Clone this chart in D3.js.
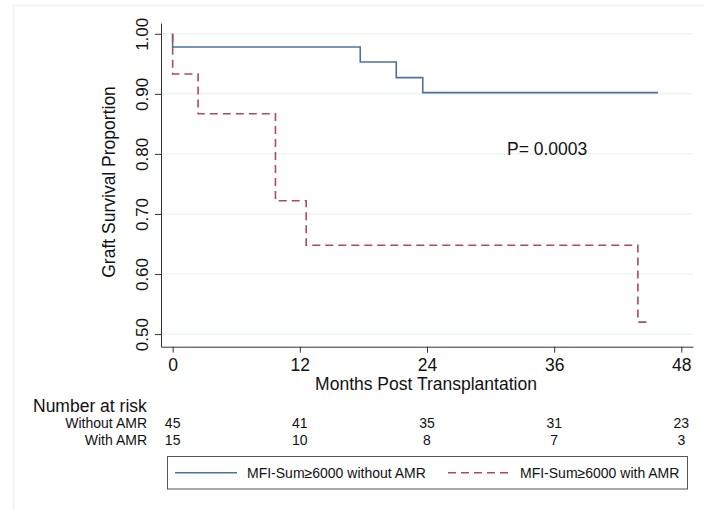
<!DOCTYPE html>
<html>
<head>
<meta charset="utf-8">
<script src="https://cdn.jsdelivr.net/npm/d3@7"></script>
<style>
  html, body { margin: 0; padding: 0; background: #ffffff; }
  svg { display: block; font-family: "Liberation Sans", Arial, sans-serif; }
</style>
</head>
<body>
<svg id="chart" width="705" height="510"></svg>
<script>
// ---- data ----
const withoutTimes = [0, 0, 17.7, 21.1, 23.6, 45.8];
const withoutSurv  = [1.0, 0.978, 0.953, 0.927, 0.902, 0.902];
const withTimes = [0, 0, 2.4, 9.7, 12.6, 43.9, 45.0];
const withSurv  = [1.0, 0.933, 0.867, 0.722, 0.648, 0.52, 0.52];
const xTicks = [0, 12, 24, 36, 48];
const yTicks = [0.5, 0.6, 0.7, 0.8, 0.9, 1.0];
const riskWithout = [45, 41, 35, 31, 23];
const riskWith = [15, 10, 8, 7, 3];
const groupLabels = ["Without AMR", "With AMR"];
const legendLabels = ["MFI-Sum\u22656000 without AMR", "MFI-Sum\u22656000 with AMR"];
const pValue = "P= 0.0003";

const blue = "#4d71a0", red = "#ad4a5b";
const svg = d3.select("#chart");

// faint outer frame
svg.append("line").attr("x1", 13.5).attr("x2", 13.5).attr("y1", 5).attr("y2", 510)
  .attr("stroke", "#f1f1f1").attr("stroke-width", 1.5);
svg.append("line").attr("x1", 13).attr("x2", 705).attr("y1", 5.5).attr("y2", 5.5)
  .attr("stroke", "#f3f3f3").attr("stroke-width", 1.5);

const L = 161, R = 693, T = 23, B = 346.7;
const x = d3.scaleLinear().domain([-1.1, 49.1]).range([L, R]);
const y = d3.scaleLinear().domain([0.479, 1.018]).range([B, T]);

// gridlines
svg.append("g").selectAll("line").data(yTicks).join("line")
  .attr("x1", L).attr("x2", R)
  .attr("y1", d => y(d)).attr("y2", d => y(d))
  .attr("stroke", "#e6eff0").attr("stroke-width", 1);

// axes
const yAx = svg.append("g").attr("transform", `translate(${L},0)`)
  .call(d3.axisLeft(y).tickValues(yTicks).tickSize(6).tickSizeOuter(0).tickFormat(d3.format(".2f")));
yAx.select(".domain").attr("stroke", "#333");
yAx.selectAll(".tick line").attr("stroke", "#333");
yAx.selectAll(".tick text")
  .attr("x", 0).attr("y", -13).attr("dy", null)
  .attr("text-anchor", "middle").attr("transform", "rotate(-90)")
  .attr("font-size", 17).attr("fill", "#111").attr("font-family", "Liberation Sans, Arial, sans-serif");

const xAx = svg.append("g").attr("transform", `translate(0,${B})`)
  .call(d3.axisBottom(x).tickValues(xTicks).tickSize(6).tickSizeOuter(0));
xAx.select(".domain").attr("stroke", "#333");
xAx.selectAll(".tick line").attr("stroke", "#333");
xAx.selectAll(".tick text")
  .attr("y", 24.8).attr("dy", null)
  .attr("font-size", 17.5).attr("fill", "#111").attr("font-family", "Liberation Sans, Arial, sans-serif");

// axis titles
svg.append("text").attr("transform", `translate(115,${(y(1.0)+y(0.5))/2 - 2}) rotate(-90)`)
  .attr("text-anchor", "middle").attr("font-size", 17.5).attr("fill", "#111")
  .text("Graft Survival Proportion");
svg.append("text").attr("x", 426).attr("y", 390)
  .attr("text-anchor", "middle").attr("font-size", 17.5).attr("fill", "#111")
  .text("Months Post Transplantation");

// curves
const line = d3.line().x(d => x(d[0])).y(d => y(d[1])).curve(d3.curveStepAfter);
svg.append("path").datum(withoutTimes.map((t, i) => [t, withoutSurv[i]]))
  .attr("d", line).attr("fill", "none").attr("stroke", blue).attr("stroke-width", 1.6);
svg.append("path").datum(withTimes.map((t, i) => [t, withSurv[i]]))
  .attr("d", line).attr("fill", "none").attr("stroke", red).attr("stroke-width", 1.6)
  .attr("stroke-dasharray", "8,5");

// p-value
svg.append("text").attr("x", 507).attr("y", 154.5).attr("font-size", 17.5).attr("fill", "#111").text(pValue);

// number at risk
svg.append("text").attr("x", 33).attr("y", 411.5).attr("font-size", 17.5).attr("fill", "#111").text("Number at risk");
[riskWithout, riskWith].forEach((row, r) => {
  const yy = 428.3 + r * 16.8;
  svg.append("text").attr("x", 147).attr("y", yy).attr("text-anchor", "end")
    .attr("font-size", 14).attr("fill", "#111").text(groupLabels[r]);
  svg.append("g").selectAll("text").data(row).join("text")
    .attr("x", (d, i) => x(xTicks[i])).attr("y", yy)
    .attr("text-anchor", "middle").attr("font-size", 14).attr("fill", "#111")
    .text(d => d);
});

// legend
svg.append("rect").attr("x", 167.5).attr("y", 456.5).attr("width", 520).attr("height", 32.5)
  .attr("fill", "#fff").attr("stroke", "#555").attr("stroke-width", 1);
svg.append("line").attr("x1", 175).attr("x2", 237).attr("y1", 472.7).attr("y2", 472.7)
  .attr("stroke", blue).attr("stroke-width", 1.6);
svg.append("text").attr("x", 247).attr("y", 477.8).attr("font-size", 14).attr("fill", "#111").text(legendLabels[0]);
svg.append("line").attr("x1", 448).attr("x2", 511).attr("y1", 472.7).attr("y2", 472.7)
  .attr("stroke", red).attr("stroke-width", 1.6).attr("stroke-dasharray", "8,5");
svg.append("text").attr("x", 520).attr("y", 477.8).attr("font-size", 14).attr("fill", "#111").text(legendLabels[1]);
</script>
</body>
</html>
